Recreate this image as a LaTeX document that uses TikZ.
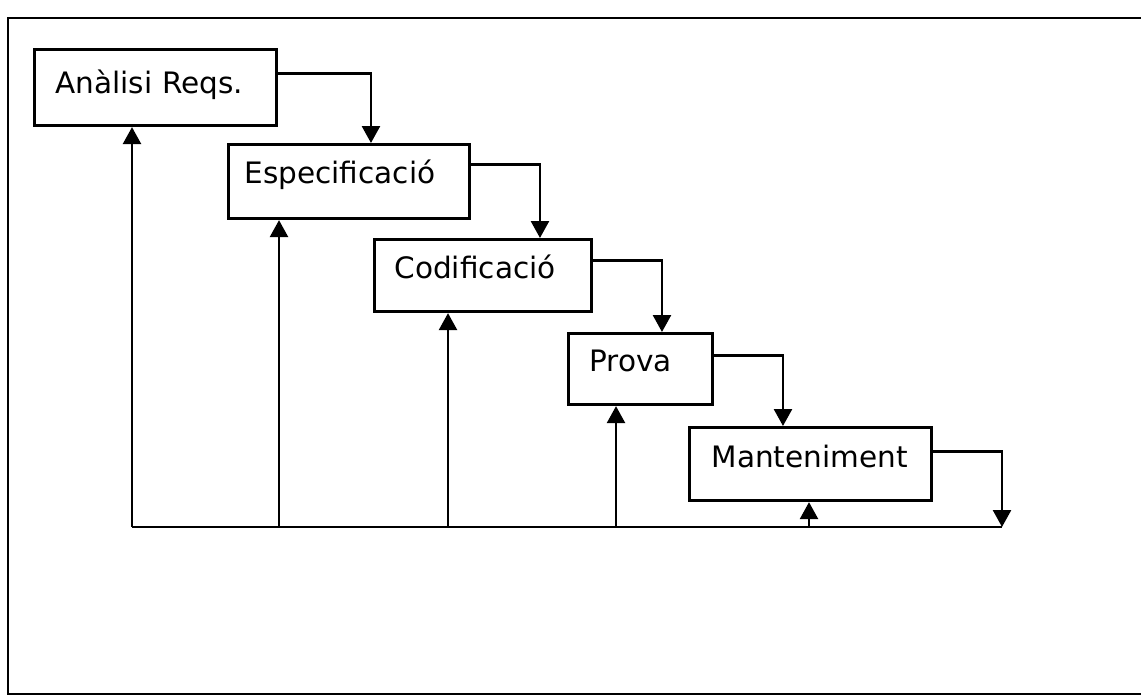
\documentclass[tikz,border=0pt]{standalone}
\usepackage{fontspec}
\setmainfont{DejaVu Sans}
\usetikzlibrary{arrows.meta}
\tikzset{
  stage/.style={draw, line width=1.8pt, anchor=north west, inner ysep=0pt,
    align=left, font=\fontsize{16.8}{20}\selectfont},
  arr/.style={line width=1.5pt, -{Triangle[width=0.36cm,length=0.34cm]}},
  conn/.style={line width=1.5pt},
  frame/.style={line width=1.4pt}
}
\begin{document}
\begin{tikzpicture}[x=0.02cm, y=-0.02cm]
\useasboundingbox (0,0) rectangle (1141,699);
\clip (0,0) rectangle (1141,699);
\draw[frame] (8,18) rectangle (1170,694);
% boxes: text width = width - 2*inner xsep
\node[stage, inner xsep=0.42cm, text width=4.00cm, text height=0.88cm, text depth=0.64cm] (b1) at (33,48) {Anàlisi Reqs.};
\node[stage, inner xsep=0.32cm, text width=4.18cm, text height=0.78cm, text depth=0.70cm] (b2) at (227,143) {Especificació};
\node[stage, inner xsep=0.40cm, text width=3.54cm, text height=0.78cm, text depth=0.66cm] (b3) at (373,238) {Codificació};
\node[stage, inner xsep=0.42cm, text width=2.04cm, text height=0.76cm, text depth=0.66cm] (b4) at (567,332) {Prova};
\node[stage, inner xsep=0.44cm, text width=3.96cm, text height=0.80cm, text depth=0.66cm] (b5) at (688,426) {Manteniment};
% forward connectors
\draw[arr] ([yshift=0.28cm]b1.east) -| ([xshift=2.88cm]b2.north west);
\draw[arr] ([yshift=0.34cm]b2.east) -| ([xshift=3.34cm]b3.north west);
\draw[arr] ([yshift=0.30cm]b3.east) -| ([xshift=1.90cm]b4.north west);
\draw[arr] ([yshift=0.27cm]b4.east) -| ([xshift=1.90cm]b5.north west);
% bottom return line
\coordinate (bl) at (132,527);
\coordinate (br) at (1002,527);
\coordinate (f2) at (279,527);
\coordinate (f3) at (448,527);
\coordinate (f4) at (616,527);
\coordinate (f5) at (809,527);
\draw[arr] ([yshift=0.25cm]b5.east) -| (br);
\draw[conn] (bl) -- (br);
\draw[arr] (bl) -- (bl |- b1.south);
\draw[arr] (f2) -- (f2 |- b2.south);
\draw[arr] (f3) -- (f3 |- b3.south);
\draw[arr] (f4) -- (f4 |- b4.south);
\draw[arr] (f5) -- (f5 |- b5.south);
\end{tikzpicture}
\end{document}
